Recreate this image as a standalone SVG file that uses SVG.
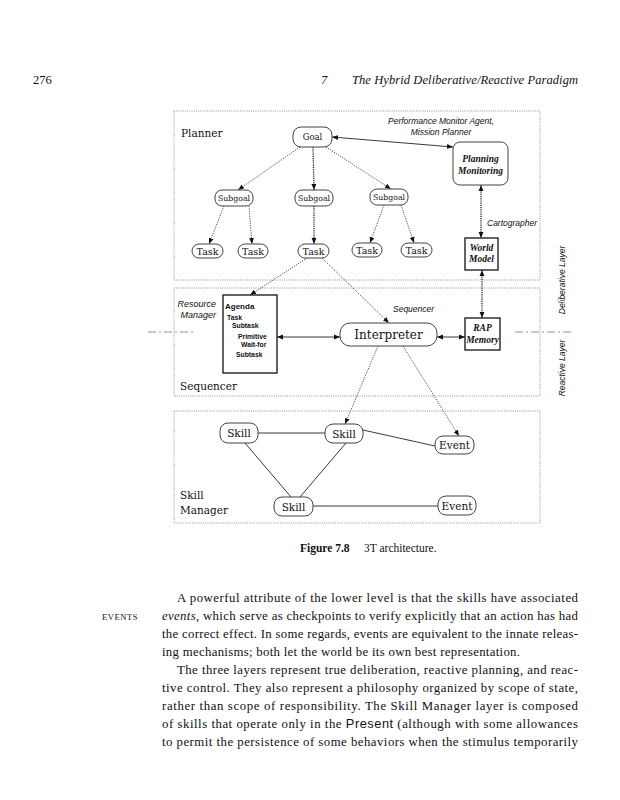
<svg xmlns="http://www.w3.org/2000/svg" width="620" height="800" viewBox="0 0 620 800">
<defs>
<marker id="ah" viewBox="0 0 10 10" refX="10" refY="5" markerWidth="6" markerHeight="6" orient="auto-start-reverse" markerUnits="userSpaceOnUse">
<path d="M0,1 L10,5 L0,9 z" fill="#111"/>
</marker>
</defs>
<style>
.bg{fill:#fff}
.zone{fill:none;stroke:#888;stroke-width:0.9;stroke-dasharray:1 1.2}
.node{fill:#fff;stroke:#444;stroke-width:1}
.boxn{fill:#fff;stroke:#222;stroke-width:1.4}
.ser{font-family:"DejaVu Serif",serif;fill:#111;text-anchor:middle}
.lbl{font-family:"DejaVu Serif",serif;fill:#111}
.bi{font-family:"Liberation Serif",serif;font-weight:bold;font-style:italic;fill:#111;text-anchor:middle;font-size:9.5px}
.isans{font-family:"Liberation Sans",sans-serif;font-style:italic;fill:#111}
.bsans{font-family:"Liberation Sans",sans-serif;font-weight:bold;fill:#111}
.dot{fill:none;stroke:#222;stroke-width:0.8;stroke-dasharray:1.2 1.2}
.dotb{fill:none;stroke:#222;stroke-width:1.3;stroke-dasharray:1.2 1}
.sol{fill:none;stroke:#222;stroke-width:0.9}
.dd{fill:none;stroke:#888;stroke-width:0.9;stroke-dasharray:8 3 2 3}
.body{font-family:"Liberation Serif",serif;font-size:12.8px;fill:#111}
</style>
<rect class="bg" x="0" y="0" width="620" height="800"/>

<g id="header">
<text x="33" y="84" font-family="Liberation Serif, serif" font-size="12.5" fill="#111">276</text>
<text x="321" y="84" font-family="Liberation Serif, serif" font-size="12.5" font-style="italic" fill="#111">7</text>
<text x="578" y="84" font-family="Liberation Serif, serif" font-size="12.5" font-style="italic" fill="#111" text-anchor="end" textLength="226" lengthAdjust="spacing">The Hybrid Deliberative/Reactive Paradigm</text>
</g>

<g id="zones">
<rect class="zone" x="174" y="111" width="366" height="169"/>
<rect class="zone" x="174" y="288" width="366" height="108"/>
<rect class="zone" x="174" y="411" width="366" height="112"/>
<text class="lbl" x="181" y="137" font-size="10.5">Planner</text>
<text class="lbl" x="180" y="390" font-size="10.5">Sequencer</text>
<text class="lbl" x="180" y="499" font-size="10.5">Skill</text>
<text class="lbl" x="180" y="514" font-size="10.5">Manager</text>
<text class="isans" x="441" y="124" font-size="8.5" text-anchor="middle">Performance Monitor Agent,</text>
<text class="isans" x="441" y="135" font-size="8.5" text-anchor="middle">Mission Planner</text>
<text class="isans" x="487" y="226" font-size="8.5">Cartographer</text>
<text class="isans" x="216" y="307" font-size="9" text-anchor="end">Resource</text>
<text class="isans" x="216" y="318" font-size="9" text-anchor="end">Manager</text>
<text class="isans" x="393" y="312" font-size="8.5">Sequencer</text>
<text class="isans" x="0" y="0" font-size="8.5" text-anchor="middle" transform="translate(565 280) rotate(-90)">Deliberative Layer</text>
<text class="isans" x="0" y="0" font-size="8.5" text-anchor="middle" transform="translate(565 368) rotate(-90)">Reactive Layer</text>
</g>

<g id="connectors">
<line class="sol" x1="332" y1="137" x2="453" y2="147" marker-start="url(#ah)" marker-end="url(#ah)"/>
<line class="dot" x1="300" y1="147" x2="238" y2="190" marker-end="url(#ah)"/>
<line class="dotb" x1="313" y1="147" x2="314" y2="190" marker-end="url(#ah)"/>
<line class="dot" x1="326" y1="147" x2="391" y2="189" marker-end="url(#ah)"/>
<line class="dot" x1="224" y1="206" x2="209" y2="244" marker-end="url(#ah)"/>
<line class="dot" x1="249" y1="206" x2="252" y2="244" marker-end="url(#ah)"/>
<line class="dotb" x1="314" y1="206" x2="314" y2="244" marker-end="url(#ah)"/>
<line class="dot" x1="384" y1="205" x2="370" y2="243" marker-end="url(#ah)"/>
<line class="dot" x1="401" y1="205" x2="414" y2="243" marker-end="url(#ah)"/>
<line class="dotb" x1="481" y1="185" x2="481" y2="238" marker-start="url(#ah)" marker-end="url(#ah)"/>
<line class="dotb" x1="482" y1="270" x2="482" y2="318" marker-start="url(#ah)" marker-end="url(#ah)"/>
<line class="dot" x1="307" y1="258" x2="250" y2="295" marker-end="url(#ah)"/>
<line class="dot" x1="322" y1="258" x2="389" y2="323" marker-end="url(#ah)"/>
<line class="sol" x1="277" y1="337" x2="340" y2="337" marker-start="url(#ah)" marker-end="url(#ah)"/>
<line class="sol" x1="437" y1="337" x2="465" y2="337" marker-start="url(#ah)" marker-end="url(#ah)"/>
<line class="dot" x1="378" y1="346" x2="345" y2="424" marker-end="url(#ah)"/>
<line class="dot" x1="403" y1="346" x2="459" y2="436" marker-end="url(#ah)"/>
<line class="sol" x1="258" y1="433" x2="325" y2="433"/>
<line class="sol" x1="363" y1="430" x2="435" y2="446"/>
<line class="sol" x1="245" y1="443" x2="291" y2="497"/>
<line class="sol" x1="346" y1="443" x2="300" y2="497"/>
<line class="sol" x1="313" y1="506" x2="438" y2="506"/>
<line class="dd" x1="148" y1="332" x2="195" y2="332"/>
<line class="dd" x1="515" y1="332" x2="572" y2="332"/>
</g>

<g id="goal"><rect class="node" x="293" y="127" width="39" height="20" rx="8"/><text class="ser" x="312.5" y="140" font-size="8.5">Goal</text></g>
<g id="subgoal1"><rect class="node" x="215" y="190" width="38" height="16" rx="7"/><text class="ser" x="234" y="201" font-size="7.8">Subgoal</text></g>
<g id="subgoal2"><rect class="node" x="295" y="190" width="38" height="16" rx="7"/><text class="ser" x="314" y="201" font-size="7.8">Subgoal</text></g>
<g id="subgoal3"><rect class="node" x="370" y="189" width="38" height="16" rx="7"/><text class="ser" x="389" y="200" font-size="7.8">Subgoal</text></g>
<g id="task1"><rect class="node" x="192" y="244" width="31" height="14" rx="7"/><text class="ser" x="207.5" y="255" font-size="9.5">Task</text></g>
<g id="task2"><rect class="node" x="238" y="244" width="30" height="14" rx="7"/><text class="ser" x="253" y="255" font-size="9.5">Task</text></g>
<g id="task3"><rect class="node" x="298" y="244" width="31" height="14" rx="7"/><text class="ser" x="313.5" y="255" font-size="9.5">Task</text></g>
<g id="task4"><rect class="node" x="352" y="243" width="30" height="14" rx="7"/><text class="ser" x="367" y="254" font-size="9.5">Task</text></g>
<g id="task5"><rect class="node" x="401" y="243" width="31" height="14" rx="7"/><text class="ser" x="416.5" y="254" font-size="9.5">Task</text></g>
<g id="planning-monitoring"><rect class="node" x="453" y="142" width="55" height="43" rx="7" stroke-width="1.6" stroke="#222"/><text class="bi" x="480.5" y="162">Planning</text><text class="bi" x="480.5" y="174">Monitoring</text></g>
<g id="world-model"><rect class="boxn" x="465" y="238" width="33" height="32"/><text class="bi" x="481.5" y="251">World</text><text class="bi" x="481.5" y="262">Model</text></g>
<g id="rap-memory"><rect class="boxn" x="465" y="318" width="35" height="32"/><text class="bi" x="482.5" y="331">RAP</text><text class="bi" x="482.5" y="343">Memory</text></g>
<g id="interpreter"><rect class="node" x="340" y="323" width="97" height="23" rx="10" stroke-width="1.3"/><text class="ser" x="388.5" y="339" font-size="12">Interpreter</text></g>
<g id="agenda"><rect class="boxn" x="223" y="295" width="54" height="78" stroke-width="1.2"/>
<text class="bsans" x="225" y="309" font-size="8">Agenda</text>
<text class="bsans" x="227" y="320" font-size="6.8">Task</text>
<text class="bsans" x="232" y="327.5" font-size="6.8">Subtask</text>
<text class="bsans" x="238" y="339" font-size="6.8">Primitive</text>
<text class="bsans" x="241" y="346.5" font-size="6.8">Wait-for</text>
<text class="bsans" x="236" y="357" font-size="6.8">Subtask</text></g>
<g id="skill1"><rect class="node" x="220" y="423" width="38" height="20" rx="8"/><text class="ser" x="239" y="437" font-size="10.5">Skill</text></g>
<g id="skill2"><rect class="node" x="325" y="424" width="38" height="19" rx="8"/><text class="ser" x="344" y="437.5" font-size="10.5">Skill</text></g>
<g id="event1"><rect class="node" x="435" y="436" width="39" height="18" rx="8"/><text class="ser" x="454.5" y="449" font-size="10.5">Event</text></g>
<g id="skill3"><rect class="node" x="274" y="497" width="39" height="19" rx="8"/><text class="ser" x="293.5" y="510.5" font-size="10.5">Skill</text></g>
<g id="event2"><rect class="node" x="438" y="496" width="38" height="19" rx="8"/><text class="ser" x="457" y="509.5" font-size="10.5">Event</text></g>

<g id="caption">
<text x="300" y="552" font-family="Liberation Serif, serif" font-size="11.5" fill="#111"><tspan font-weight="bold">Figure 7.8</tspan><tspan x="364">3T architecture.</tspan></text>
</g>

<g id="body">
<text x="102" y="620" font-family="Liberation Serif, serif" font-size="8.5" fill="#111" letter-spacing="0.6">EVENTS</text>
<text class="body" x="177" y="602" textLength="401" lengthAdjust="spacing">A powerful attribute of the lower level is that the skills have associated</text>
<text class="body" x="162" y="620" textLength="416" lengthAdjust="spacing"><tspan font-style="italic">events</tspan>, which serve as checkpoints to verify explicitly that an action has had</text>
<text class="body" x="162" y="638" textLength="416" lengthAdjust="spacing">the correct effect. In some regards, events are equivalent to the innate releas-</text>
<text class="body" x="162" y="656" textLength="358" lengthAdjust="spacing">ing mechanisms; both let the world be its own best representation.</text>
<text class="body" x="177" y="674" textLength="401" lengthAdjust="spacing">The three layers represent true deliberation, reactive planning, and reac-</text>
<text class="body" x="162" y="692" textLength="416" lengthAdjust="spacing">tive control.  They also represent a philosophy organized by scope of state,</text>
<text class="body" x="162" y="710" textLength="416" lengthAdjust="spacing">rather than scope of responsibility.  The Skill Manager layer is composed</text>
<text class="body" x="162" y="728" textLength="416" lengthAdjust="spacing">of skills that operate only in the <tspan font-family="Liberation Sans, sans-serif">Present</tspan> (although with some allowances</text>
<text class="body" x="162" y="746" textLength="416" lengthAdjust="spacing">to permit the persistence of some behaviors when the stimulus temporarily</text>
</g>
</svg>
